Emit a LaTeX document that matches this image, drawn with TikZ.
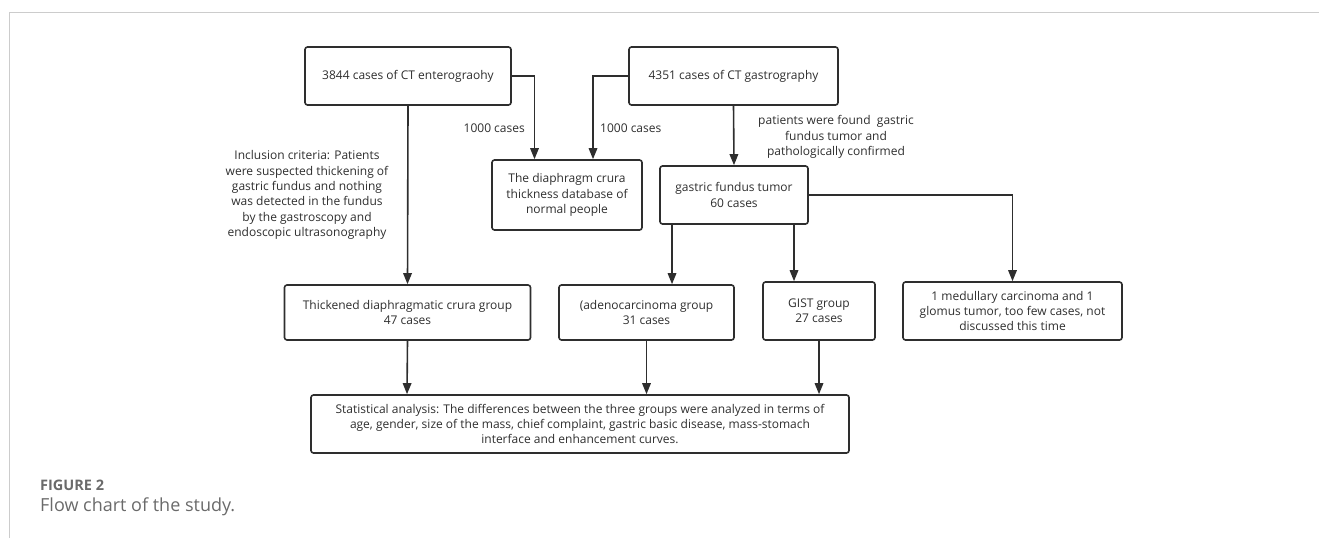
\documentclass[tikz,border=0pt]{standalone}
\usepackage{fontspec}
\setmainfont{Open Sans}
\usepackage{xcolor}
\usepackage{tikz}
\usetikzlibrary{arrows.meta}
\definecolor{ink}{HTML}{2E2E2E}
\definecolor{rim}{HTML}{CCCCCC}
\definecolor{capgray}{HTML}{6A6A6A}

\begin{document}
\begin{tikzpicture}[x=1pt,y=-1pt,
    box/.style={draw=ink,line width=1.6pt,rounded corners=2.5pt,align=center,text=ink,inner sep=0pt},
    lbl/.style={align=center,text=ink,inner sep=2pt},
    arr/.style={draw=ink,line width=1.6pt,-{Triangle[length=11pt,width=8.5pt]}},
    every node/.style={font=\fontsize{12}{15.4}\selectfont}]
    \useasboundingbox (0,0) rectangle (1319,538);
    % page frame
    \draw[rim,line width=1pt] (9,538) -- (9,12) -- (1319,12);
    % top row
    \node[box,minimum width=206,minimum height=58] (ent) at (408,76) {3844 cases of CT enterograohy};
    \node[box,minimum width=209,minimum height=58] (gas) at (733.5,76) {4351 cases of CT gastrography};
    % second row
    \node[box,minimum width=150,minimum height=70] (base) at (567,195) {The diaphragm crura\\thickness database of\\normal people};
    \node[box,minimum width=148,minimum height=58] (tum) at (734,195) {gastric fundus tumor\\60 cases};
    % groups
    \node[box,minimum width=246,minimum height=55] (thick) at (407.5,312.5) {Thickened diaphragmatic crura group\\47 cases};
    \node[box,minimum width=175,minimum height=55] (adeno) at (646.5,312.5) {(adenocarcinoma group\\31 cases};
    \node[box,minimum width=112,minimum height=58] (gist) at (819,311) {GIST group\\27 cases};
    \node[box,minimum width=219,minimum height=58] (other) at (1012.5,311) {1 medullary carcinoma and 1\\glomus tumor, too few cases, not\\discussed this time};
    % analysis
    \node[box,minimum width=538,minimum height=58] (stat) at (580,424) {Statistical analysis: The differences between the three groups were analyzed in terms of\\age, gender, size of the mass, chief complaint, gastric basic disease, mass-stomach\\interface and enhancement curves.};
    % labels
    \node[lbl,anchor=east] (cnt1) at (527,128) {1000 cases};
    \node[lbl,anchor=west] (cnt2) at (598,128) {1000 cases};
    \node[lbl] (incl) at (307,195) {Inclusion criteria: Patients\\were suspected thickening of\\gastric fundus and nothing\\was detected in the fundus\\by the gastroscopy and\\endoscopic ultrasonography};
    \node[lbl] (path) at (836,137) {patients were found\ \ gastric\\fundus tumor and\\pathologically confirmed};
    % caption
    \node[anchor=west,inner sep=0pt,text=capgray,font=\fontsize{14.5}{16}\selectfont\bfseries] (fig) at (40,485) {FIGURE 2};
    \node[anchor=west,inner sep=0pt,text=capgray,font=\fontsize{18}{20}\selectfont] (cap) at (40,507) {Flow chart of the study.};
    % connectors
    \draw[arr] (ent.east) -| ([xshift=-32.5]base.north);
    \draw[arr] (gas.west) -| ([xshift=26]base.north);
    \draw[arr] (ent.south) -- (thick.north);
    \draw[arr] (gas.south) -- (tum.north);
    \draw[arr] ([xshift=-62]tum.south) -- ([xshift=25.5]adeno.north);
    \draw[arr] ([xshift=60]tum.south) -- ([xshift=-25]gist.north);
    \draw[arr] (tum.east) -| (other.north);
    \draw[arr] (thick.south) -- ([xshift=-173]stat.north);
    \draw[arr] (adeno.south) -- ([xshift=66.5]stat.north);
    \draw[arr] (gist.south) -- ([xshift=239]stat.north);
\end{tikzpicture}
\end{document}
